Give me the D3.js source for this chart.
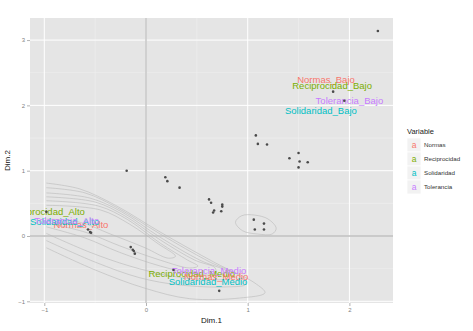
<!DOCTYPE html>
<html><head><meta charset="utf-8">
<script src="https://cdn.jsdelivr.net/npm/d3@7"></script>
<style>body{margin:0;background:#fff;}svg{display:block;font-family:"Liberation Sans",Arial,sans-serif;}</style>
</head><body><svg id="c" width="473" height="331"></svg>
<script>
// ---- data ----
const xTicks = [-1, 0, 1, 2];
const yTicks = [-1, 0, 1, 2, 3];
const xMinor = [-0.5, 0.5, 1.5];
const yMinor = [-0.5, 0.5, 1.5, 2.5];
const variables = ["Normas", "Reciprocidad", "Solidaridad", "Tolerancia"];
const varColors = ["#F8766D", "#7CAE00", "#00BFC4", "#C77CFF"];

// individuals (Dim.1, Dim.2)
const pointX = [2.28,1.84,1.95,1.08,1.10,1.19,1.50,1.41,1.51,1.59,1.50,-0.19,0.19,0.21,0.33,0.62,0.64,0.75,0.75,0.67,0.66,0.74,1.06,1.16,1.07,1.16,-0.57,-0.55,-0.54,-0.15,-0.13,-0.12,-0.11,0.27,0.72,-0.98];
const pointY = [3.14,2.21,2.07,1.54,1.41,1.40,1.27,1.19,1.14,1.13,1.05,1.00,0.90,0.84,0.74,0.56,0.51,0.48,0.45,0.39,0.36,0.38,0.25,0.19,0.10,0.10,0.10,0.06,0.05,-0.17,-0.21,-0.23,-0.27,-0.52,-0.84,0.37];

// category labels
const labelText = ["Normas_Alto","Solidaridad_Alto","Tolerancia_Alto","Reciprocidad_Alto",
                   "Normas_Bajo","Reciprocidad_Bajo","Tolerancia_Bajo","Solidaridad_Bajo",
                   "Reciprocidad_Medio","Tolerancia_Medio","Normas_Medio","Solidaridad_Medio"];
const labelVar  = ["Normas","Solidaridad","Tolerancia","Reciprocidad",
                   "Normas","Reciprocidad","Tolerancia","Solidaridad",
                   "Reciprocidad","Tolerancia","Normas","Solidaridad"];
const labelX = [-0.64,-0.80,-0.78,-0.98, 1.77,1.83,2.00,1.72, 0.45,0.62,0.69,0.61];
const labelY = [ 0.18, 0.22, 0.24, 0.37, 2.39,2.30,2.07,1.92, -0.57,-0.53,-0.62,-0.70];

// density contour lines (Dim.1, Dim.2); open ones are cut at the data range
const contour0 = [[-0.98,0.81],[-0.65,0.72],[-0.30,0.47],[0.14,0.06],[0.68,-0.41],[1.07,-0.72],[1.17,-0.87],[0.92,-0.95],[0.43,-0.96],[-0.01,-0.80],[-0.50,-0.52],[-0.98,-0.18]];
const contour1 = [[-0.98,0.74],[-0.60,0.66],[-0.28,0.43],[0.14,0.03],[0.63,-0.40],[0.92,-0.61],[0.98,-0.74],[0.78,-0.78],[0.33,-0.75],[-0.06,-0.64],[-0.50,-0.40],[-0.98,-0.07]];
const contour2 = [[-0.98,0.66],[-0.55,0.58],[-0.24,0.37],[0.14,-0.02],[0.53,-0.37],[0.81,-0.55],[0.85,-0.64],[0.63,-0.67],[0.24,-0.61],[-0.16,-0.46],[-0.55,-0.25],[-0.98,0.04]];
const contour3 = [[-0.98,0.60],[-0.50,0.52],[-0.21,0.31],[0.14,-0.06],[0.48,-0.37],[0.68,-0.49],[0.68,-0.58],[0.48,-0.58],[0.14,-0.46],[-0.26,-0.25],[-0.60,-0.03],[-0.98,0.14]];
const contour4 = [[-0.98,0.54],[-0.47,0.46],[-0.18,0.25],[0.14,-0.11],[0.41,-0.37],[0.51,-0.46],[0.43,-0.49],[0.14,-0.37],[-0.26,-0.15],[-0.60,0.06],[-0.98,0.20]];
const contour5 = [[-0.98,0.47],[-0.45,0.40],[-0.16,0.18],[0.12,-0.12],[0.29,-0.31],[0.22,-0.34],[-0.01,-0.18],[-0.35,0.03],[-0.65,0.21],[-0.98,0.26]];
const contourRing = [[0.88,0.21],[0.94,0.31],[1.07,0.32],[1.20,0.26],[1.28,0.12],[1.24,0.03],[1.10,0.03],[0.95,0.08]];
const openContours = [contour0, contour1, contour2, contour3, contour4, contour5];

// ---- layout ----
const L = 30, R = 393, T = 18, B = 303;
const x = d3.scaleLinear().domain([-1.1406, 2.4287]).range([L, R]);
const y = d3.scaleLinear().domain([-1.026, 3.338]).range([B, T]);
const color = d3.scaleOrdinal().domain(variables).range(varColors);

const svg = d3.select("#c");
svg.append("defs").append("clipPath").attr("id","pc")
  .append("rect").attr("x",L).attr("y",T).attr("width",R-L).attr("height",B-T);

svg.append("rect").attr("x",L).attr("y",T).attr("width",R-L).attr("height",B-T).attr("fill","#e5e5e5");

const grid = svg.append("g");
grid.selectAll(".xm").data(xMinor).join("line")
  .attr("x1",d=>x(d)).attr("x2",d=>x(d)).attr("y1",T).attr("y2",B)
  .attr("stroke","#f2f2f2").attr("stroke-width",0.5);
grid.selectAll(".ym").data(yMinor).join("line")
  .attr("y1",d=>y(d)).attr("y2",d=>y(d)).attr("x1",L).attr("x2",R)
  .attr("stroke","#f2f2f2").attr("stroke-width",0.5);
grid.selectAll(".xM").data(xTicks).join("line")
  .attr("x1",d=>x(d)).attr("x2",d=>x(d)).attr("y1",T).attr("y2",B)
  .attr("stroke","#ffffff").attr("stroke-width",1);
grid.selectAll(".yM").data(yTicks).join("line")
  .attr("y1",d=>y(d)).attr("y2",d=>y(d)).attr("x1",L).attr("x2",R)
  .attr("stroke","#ffffff").attr("stroke-width",1);

const plot = svg.append("g").attr("clip-path","url(#pc)");

// zero reference lines
plot.append("line").attr("x1",x(0)).attr("x2",x(0)).attr("y1",T).attr("y2",B)
  .attr("stroke","#bdbdbd").attr("stroke-width",1.3);
plot.append("line").attr("y1",y(0)).attr("y2",y(0)).attr("x1",L).attr("x2",R)
  .attr("stroke","#bdbdbd").attr("stroke-width",1.3);

// contours
const oline = d3.line().x(d=>x(d[0])).y(d=>y(d[1])).curve(d3.curveCatmullRom.alpha(0.5));
const cline = d3.line().x(d=>x(d[0])).y(d=>y(d[1])).curve(d3.curveCatmullRomClosed.alpha(0.5));
plot.selectAll(".ct").data(openContours).join("path")
  .attr("d",oline).attr("fill","none").attr("stroke","#b8b8b8").attr("stroke-width",0.6);
plot.append("path").datum(contourRing)
  .attr("d",cline).attr("fill","none").attr("stroke","#b8b8b8").attr("stroke-width",0.6);

// labels
const labels = labelText.map((t,i)=>({t, v:labelVar[i], x:labelX[i], y:labelY[i]}));
plot.selectAll(".lab").data(labels).join("text")
  .attr("x",d=>x(d.x)).attr("y",d=>y(d.y)).attr("dy","0.35em")
  .attr("text-anchor","middle").attr("font-size",9.5)
  .attr("fill",d=>color(d.v)).text(d=>d.t);

// points
const pts = pointX.map((v,i)=>[v, pointY[i]]);
plot.selectAll(".pt").data(pts).join("circle")
  .attr("cx",d=>x(d[0])).attr("cy",d=>y(d[1])).attr("r",1.3).attr("fill","#4a4a4a");

// axes
const xa = svg.append("g").attr("transform",`translate(0,${B})`)
  .call(d3.axisBottom(x).tickValues(xTicks).tickSize(3).tickPadding(2).tickFormat(d3.format("d")));
const ya = svg.append("g").attr("transform",`translate(${L},0)`)
  .call(d3.axisLeft(y).tickValues(yTicks).tickSize(3).tickPadding(2).tickFormat(d3.format("d")));
[xa,ya].forEach(a=>{
  a.select(".domain").remove();
  a.selectAll(".tick line").attr("stroke","#7f7f7f").attr("stroke-width",0.6);
  a.selectAll(".tick text").attr("fill","#7f7f7f").attr("font-size",6);
});

svg.append("text").attr("x",(L+R)/2).attr("y",323).attr("text-anchor","middle")
  .attr("font-size",8).attr("fill","#111").text("Dim.1");
svg.append("text").attr("transform",`translate(10,${(T+B)/2}) rotate(-90)`).attr("text-anchor","middle")
  .attr("font-size",8).attr("fill","#111").text("Dim.2");

// legend
const lg = svg.append("g").attr("transform","translate(407,0)");
lg.append("text").attr("x",0).attr("y",134).attr("font-size",7.5).attr("fill","#222").text("Variable");
const rows = lg.selectAll(".lr").data(variables).join("g")
  .attr("transform",(d,i)=>`translate(0,${138+i*14})`);
rows.append("rect").attr("width",14).attr("height",14).attr("fill","#f2f2f2").attr("stroke","#ffffff").attr("stroke-width",0.8);
rows.append("text").attr("x",7).attr("y",7).attr("dy","0.35em").attr("text-anchor","middle")
  .attr("font-size",8.5).attr("fill",d=>color(d)).text("a");
rows.append("text").attr("x",17).attr("y",7).attr("dy","0.35em")
  .attr("font-size",6.2).attr("fill","#333").text(d=>d);
</script></body></html>
